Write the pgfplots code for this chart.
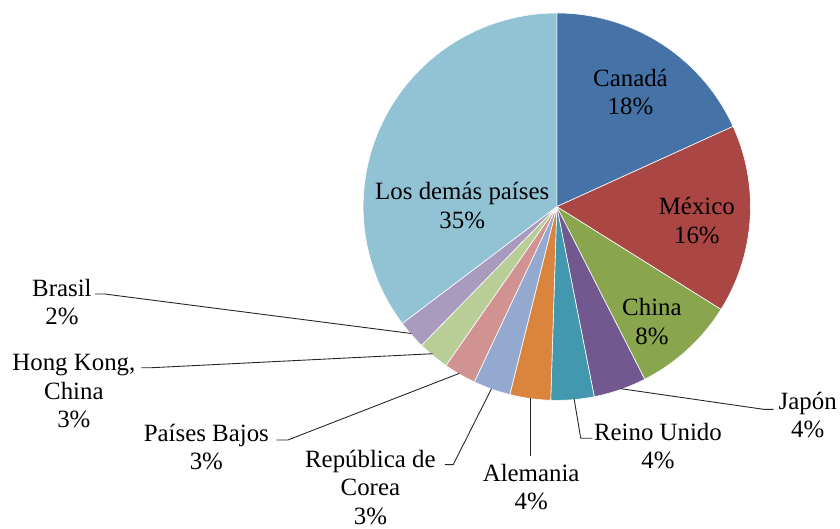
\documentclass[border=0pt]{standalone}
\usepackage{pgfplots}
\pgfplotsset{compat=1.18}
\usepackage{fontspec}
\setmainfont{Liberation Serif}
\definecolor{cCan}{HTML}{4572A7}
\definecolor{cMex}{HTML}{AA4643}
\definecolor{cChi}{HTML}{89A54E}
\definecolor{cJap}{HTML}{71588F}
\definecolor{cRU}{HTML}{4198AF}
\definecolor{cAle}{HTML}{DB843D}
\definecolor{cCor}{HTML}{93A9CF}
\definecolor{cPB}{HTML}{D19392}
\definecolor{cHK}{HTML}{B9CD96}
\definecolor{cBra}{HTML}{A99BBD}
\definecolor{cOtr}{HTML}{92C3D4}
\newcommand\fs{\fontsize{25}{28.5}\selectfont}
% shares (%)
\def\vCan{18.2}\def\vMex{15.7}\def\vChi{8.6}\def\vJap{4.4}\def\vRU{3.6}
\def\vAle{3.4}\def\vCor{3.1}\def\vPB{2.7}\def\vHK{2.6}\def\vBra{2.4}\def\vOtr{35.3}
\pgfmathsetmacro\aA{90}
\pgfmathsetmacro\aB{\aA-3.6*\vCan}
\pgfmathsetmacro\aC{\aB-3.6*\vMex}
\pgfmathsetmacro\aD{\aC-3.6*\vChi}
\pgfmathsetmacro\aE{\aD-3.6*\vJap}
\pgfmathsetmacro\aF{\aE-3.6*\vRU}
\pgfmathsetmacro\aG{\aF-3.6*\vAle}
\pgfmathsetmacro\aH{\aG-3.6*\vCor}
\pgfmathsetmacro\aI{\aH-3.6*\vPB}
\pgfmathsetmacro\aJ{\aI-3.6*\vHK}
\pgfmathsetmacro\aK{\aJ-3.6*\vBra}
\pgfmathsetmacro\aL{\aK-3.6*\vOtr}
\def\pcx{557.7}\def\pcy{207}\def\prad{194}
\newcommand{\slice}[3]{%
  \addplot[fill=#3, draw=white, line width=0.6pt, domain=#2:#1, samples=80, variable=\t]
    ({\pcx+\prad*cos(\t)},{\pcy-\prad*sin(\t)}) -- (axis cs:\pcx,\pcy) -- cycle;}
\begin{document}
\begin{tikzpicture}
\begin{axis}[width=840bp,height=529bp,scale only axis,
  xmin=0,xmax=840,ymin=0,ymax=529,y dir=reverse,
  hide axis,clip=false]
\addplot[draw=none] coordinates {(0,0) (840,529)};
\slice{\aA}{\aB}{cCan}
\slice{\aB}{\aC}{cMex}
\slice{\aC}{\aD}{cChi}
\slice{\aD}{\aE}{cJap}
\slice{\aE}{\aF}{cRU}
\slice{\aF}{\aG}{cAle}
\slice{\aG}{\aH}{cCor}
\slice{\aH}{\aI}{cPB}
\slice{\aI}{\aJ}{cHK}
\slice{\aJ}{\aK}{cBra}
\slice{\aK}{\aL}{cOtr}
% leader lines
\tikzset{lead/.style={black!85, line width=0.9pt}}
\draw[lead] (axis cs:95,294.5) -- (axis cs:105,294.5) -- (axis cs:411.7,334);
\draw[lead] (axis cs:141.7,368.3) -- (axis cs:152,368.3) -- (axis cs:433.3,354.3);
\draw[lead] (axis cs:276.7,440.7) -- (axis cs:288.3,440.7) -- (axis cs:460,374);
\draw[lead] (axis cs:445.7,465.3) -- (axis cs:454,465.3) -- (axis cs:492.3,389.3);
\draw[lead] (axis cs:531.7,398.3) -- (axis cs:531.7,456.7);
\draw[lead] (axis cs:575,399.3) -- (axis cs:581.7,439) -- (axis cs:593.3,439);
\draw[lead] (axis cs:621.7,389.3) -- (axis cs:765,410) -- (axis cs:775,410);
% labels
\node[align=center,font=\fs] at (axis cs:631.5,92) {Canadá\\18\%};
\node[align=center,font=\fs] at (axis cs:698,221) {México\\16\%};
\node[align=center,font=\fs] at (axis cs:653,322) {China\\8\%};
\node[align=center,font=\fs] at (axis cs:809,416) {Japón\\4\%};
\node[align=center,font=\fs] at (axis cs:659,446.7) {Reino Unido\\4\%};
\node[align=center,font=\fs] at (axis cs:532,487.5) {Alemania\\4\%};
\node[align=center,font=\fs] at (axis cs:371,488) {República de\\Corea\\3\%};
\node[align=center,font=\fs] at (axis cs:206.7,447.5) {Países Bajos\\3\%};
\node[align=center,font=\fs] at (axis cs:74,391.7) {Hong Kong,\\China\\3\%};
\node[align=center,font=\fs] at (axis cs:62,302.5) {Brasil\\2\%};
\node[align=center,font=\fs] at (axis cs:463,206) {Los demás países\\35\%};
\end{axis}
\end{tikzpicture}
\end{document}
